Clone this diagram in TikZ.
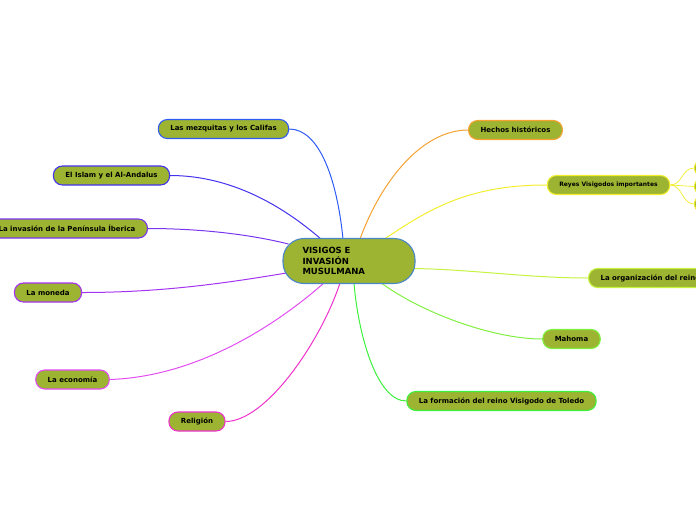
\documentclass[tikz,border=0pt]{standalone}
\usepackage{fontspec}
\setmainfont{DejaVu Sans}
\usetikzlibrary{backgrounds}
\definecolor{olive}{HTML}{9CB431}
\definecolor{cblue}{HTML}{4A86C8}
\definecolor{cmezq}{HTML}{2F5BF5}
\definecolor{cislam}{HTML}{4433EE}
\definecolor{cinv}{HTML}{7A35F0}
\definecolor{cmon}{HTML}{A533F2}
\definecolor{ceco}{HTML}{E24CF2}
\definecolor{crel}{HTML}{F032CC}
\definecolor{chech}{HTML}{F5A233}
\definecolor{creyes}{HTML}{F2EE2E}
\definecolor{corg}{HTML}{C6F240}
\definecolor{cmah}{HTML}{80F040}
\definecolor{cform}{HTML}{3CF03C}
\tikzset{
  branch/.style={draw=#1, fill=olive, line width=1.1pt, rounded corners=9pt,
    minimum height=19pt, inner xsep=12pt, inner ysep=2pt,
    font=\fontsize{7}{8}\selectfont\bfseries, text=black},
  leaf/.style={draw=#1, fill=olive, line width=1pt, rounded corners=5pt,
    minimum height=13pt, minimum width=30pt, inner sep=0pt},
  conn/.style={draw=#1, line width=1pt},
}
\begin{document}
\begin{tikzpicture}[x=1pt,y=-1pt]
\useasboundingbox (0,0) rectangle (696,520);
\clip (0,0) rectangle (696,520);
% central node
\node[draw=cblue, fill=olive, line width=1.1pt, rounded corners=21pt,
  minimum height=45pt, text width=93pt, inner xsep=19.5pt, inner ysep=4pt,
  align=left, font=\fontsize{8.5}{10.5}\selectfont\bfseries] (c) at (349,261)
  {VISIGOS E\\INVASIÓN\\MUSULMANA};
% left branches
\node[branch=cmezq] (mezq) at (223.5,129) {Las mezquitas y los Califas};
\node[branch=cislam] (islam) at (111.5,175.5) {El Islam y el Al-Andalus};
\node[branch=cinv, anchor=east] (inv) at (148,228.5) {La invasión de la Península Íberica};
\node[branch=cmon] (mon) at (48,292.5) {La moneda};
\node[branch=ceco] (eco) at (72.5,379.5) {La economía};
\node[branch=crel] (rel) at (197,421.5) {Religión};
% right branches
\node[branch=chech] (hech) at (515.5,130) {Hechos históricos};
\node[branch=creyes, font=\fontsize{6}{7}\selectfont\bfseries] (reyes) at (608.5,185) {Reyes Visigodos importantes};
\node[branch=corg, anchor=west] (org) at (588,278) {La organización del reino};
\node[branch=cmah] (mah) at (571.5,339) {Mahoma};
\node[branch=cform] (form) at (501.5,401) {La formación del reino Visigodo de Toledo};
% leaves of Reyes
\node[leaf=creyes, anchor=west] (r1) at (694,168) {};
\node[leaf=creyes, anchor=west] (r2) at (694,186.5) {};
\node[leaf=creyes, anchor=west] (r3) at (694,204) {};
% attachment points on the central node
\coordinate (cmz) at ([xshift=-6pt,yshift=-1pt]c.north);
\coordinate (cis) at ([xshift=-27pt,yshift=-2pt]c.north);
\coordinate (chc) at ([xshift=11pt,yshift=-1pt]c.north);
\coordinate (cry) at ([xshift=34pt,yshift=-2pt]c.north);
\coordinate (civ) at ([xshift=6pt,yshift=17pt]c.west);
\coordinate (cmo) at ([xshift=4pt,yshift=-12pt]c.west);
\coordinate (cec) at ([xshift=-24pt,yshift=2pt]c.south);
\coordinate (crl) at ([xshift=-9pt,yshift=1pt]c.south);
\coordinate (cfo) at ([xshift=5pt,yshift=1pt]c.south);
\coordinate (cma) at ([xshift=31pt,yshift=2pt]c.south);
\coordinate (cor) at ([xshift=-2pt,yshift=-7.5pt]c.east);
\begin{scope}[on background layer]
\draw[conn=cmezq] (mezq.east) .. controls +(30,0) and +(-6,-60) .. (cmz);
\draw[conn=cislam] (islam.east) .. controls +(60,0) and +(-40,-35) .. (cis);
\draw[conn=cinv] (inv.east) .. controls +(50,0) and +(-40,-10) .. (civ);
\draw[conn=cmon] (mon.east) .. controls +(80,0) and +(-60,10) .. (cmo);
\draw[conn=ceco] (eco.east) .. controls +(90,-3) and +(-45,40) .. (cec);
\draw[conn=crel] (rel.east) .. controls +(40,0) and +(-20,60) .. (crl);
\draw[conn=chech] (hech.west) .. controls +(-45,0) and +(22,-60) .. (chc);
\draw[conn=creyes] (reyes.west) .. controls +(-80,0) and +(45,-30) .. (cry);
\draw[conn=corg] (org.west) .. controls +(-60,0) and +(60,1) .. (cor);
\draw[conn=cmah] (mah.west) .. controls +(-50,0) and +(40,30) .. (cma);
\draw[conn=cform] (form.west) .. controls +(-30,0) and +(4,50) .. (cfo);
\draw[conn=creyes, line width=0.7pt] (reyes.east) .. controls +(12,0) and +(-12,0) .. (r1.west);
\draw[conn=creyes, line width=0.7pt] (reyes.east) .. controls +(12,0) and +(-12,0) .. (r2.west);
\draw[conn=creyes, line width=0.7pt] (reyes.east) .. controls +(12,0) and +(-12,0) .. (r3.west);
\end{scope}
\end{tikzpicture}
\end{document}
